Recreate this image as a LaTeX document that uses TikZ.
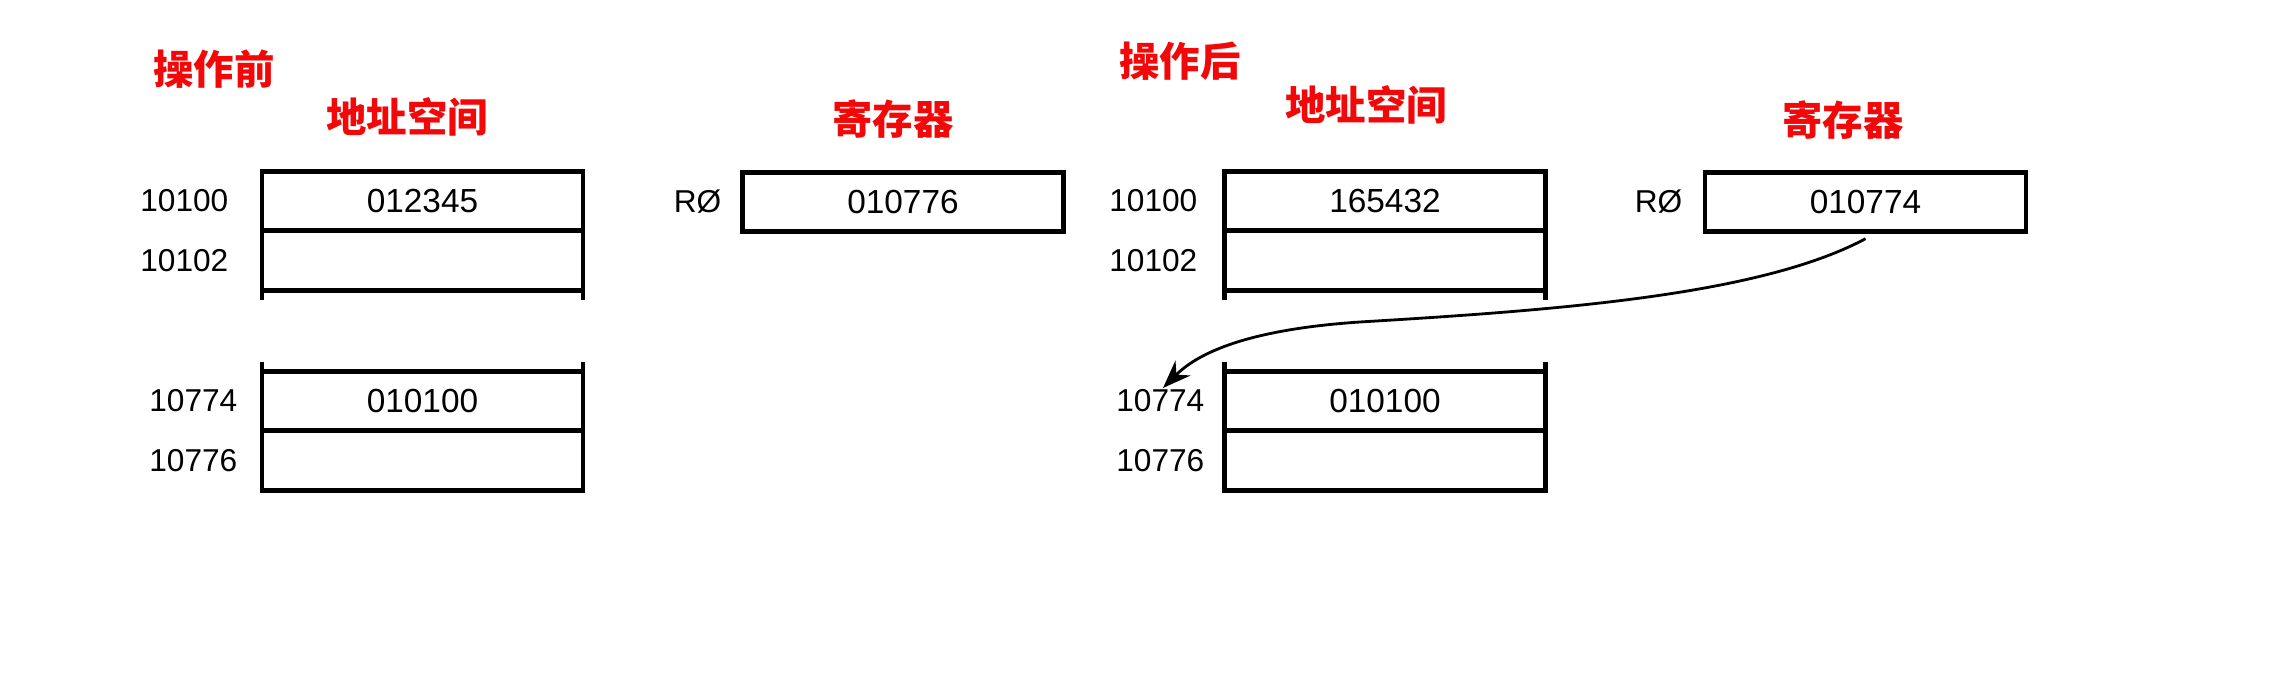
\documentclass[tikz,border=0pt]{standalone}
\usepackage{fontspec}
\setmainfont{Liberation Sans}
\newfontfamily\cjk{Noto Sans CJK SC}
\usepackage{tikz}
\usetikzlibrary{arrows.meta}
\definecolor{mred}{rgb}{0.95, 0.03, 0.03}

\begin{document}
\begin{tikzpicture}[
    cell/.style={draw, line width=1.4pt, minimum width=3.21cm, minimum height=0.595cm,
      inner sep=0pt, outer sep=0pt, font=\fontsize{9.5}{11}\selectfont},
    addr/.style={left, inner sep=0pt, font=\fontsize{9}{11}\selectfont},
    title/.style={mred, inner sep=0pt, font=\cjk\fontsize{11.5}{13}\selectfont\bfseries},
    wall/.style={line width=1.4pt},
    link/.style={line width=0.8pt, -{Stealth[length=8pt, width=6pt]}}]
      \useasboundingbox (0, 0) rectangle (22.88, -6.94);

      \node [title] (before) at (2.14, -0.69) {操作前};
      \node [title] (after) at (11.80, -0.61) {操作后};
      \node [title] (spaceA) at (4.07, -1.17) {地址空间};
      \node [title] (regA) at (8.93, -1.19) {寄存器};
      \node [title] (spaceB) at (13.66, -1.05) {地址空间};
      \node [title] (regB) at (18.43, -1.20) {寄存器};

      \node [cell] (a1) at (4.225, -2.01) {012345};
      \node [cell] (a2) at (4.225, -2.605) {};
      \node [cell] (a3) at (4.225, -4.01) {010100};
      \node [cell] (a4) at (4.225, -4.605) {};
      \node [cell] (ra) at (9.03, -2.02) {010776};

      \node [cell] (b1) at (13.85, -2.01) {165432};
      \node [cell] (b2) at (13.85, -2.605) {};
      \node [cell] (b3) at (13.85, -4.01) {010100};
      \node [cell] (b4) at (13.85, -4.605) {};
      \node [cell] (rb) at (18.655, -2.02) {010774};

      \node [addr] (la1) at (2.29, -2.01) {10100};
      \node [addr] (la2) at (2.29, -2.605) {10102};
      \node [addr] (la3) at (2.38, -4.01) {10774};
      \node [addr] (la4) at (2.38, -4.605) {10776};
      \node [addr] (lra) at (7.22, -2.02) {RØ};
      \node [addr] (lb1) at (11.98, -2.01) {10100};
      \node [addr] (lb2) at (11.98, -2.605) {10102};
      \node [addr] (lb3) at (12.05, -4.01) {10774};
      \node [addr] (lb4) at (12.05, -4.605) {10776};
      \node [addr] (lrb) at (16.83, -2.02) {RØ};

      \foreach \c in {a2, b2} {
        \draw [wall] (\c.south west) -- +(0, -0.1);
        \draw [wall] (\c.south east) -- +(0, -0.1);
      }
      \foreach \c in {a3, b3} {
        \draw [wall] (\c.north west) -- +(0, 0.09);
        \draw [wall] (\c.north east) -- +(0, 0.09);
      }

      \coordinate (tip) at (11.63, -3.88);
      \draw [link] ([yshift=-0.07cm] rb.south) .. controls (17.6, -2.95) and (15.6, -3.1) .. (13.6, -3.22)
        .. controls (12.4, -3.3) and (11.95, -3.56) .. (tip);
    \end{tikzpicture}
\end{document}
